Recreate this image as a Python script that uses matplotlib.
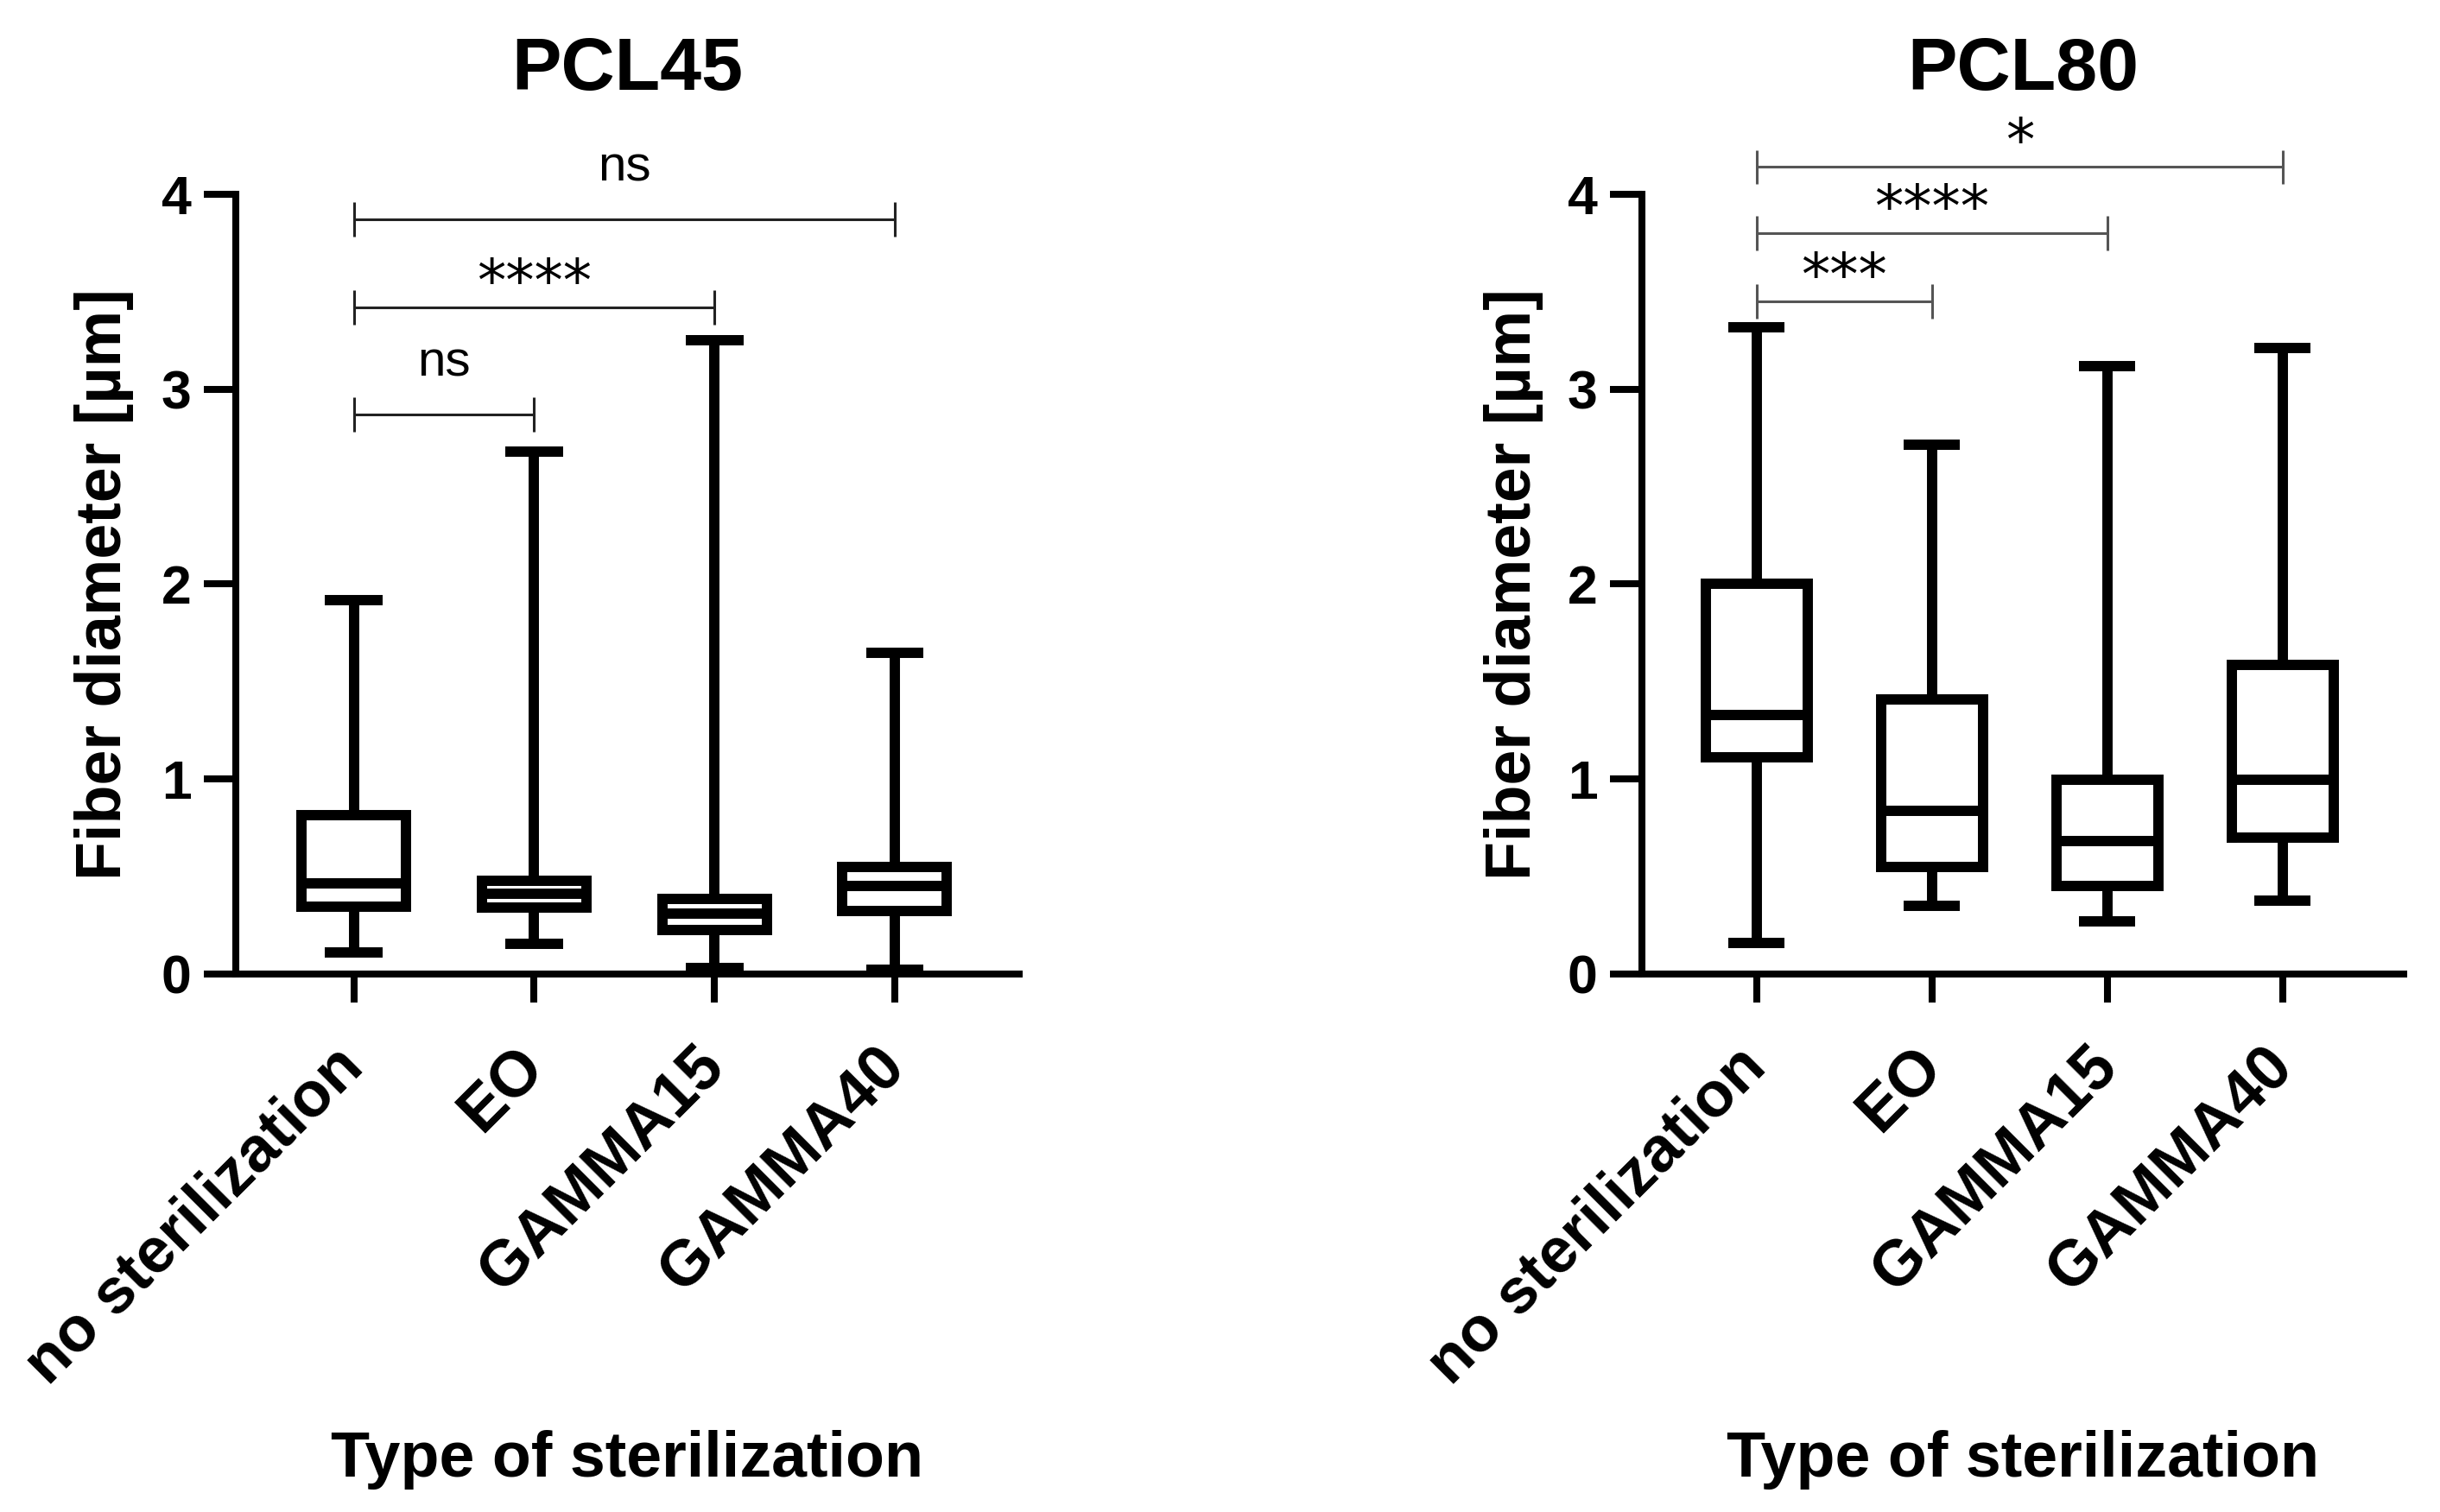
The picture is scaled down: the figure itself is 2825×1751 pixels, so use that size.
import numpy as np
import matplotlib.pyplot as plt

plt.rcParams['font.family'] = ['Liberation Sans', 'DejaVu Sans']

categories = ['no sterilization', 'EO', 'GAMMA15', 'GAMMA40']

# PCL45 box statistics (fiber diameter, um)
pcl45_min = [0.11, 0.155, 0.033, 0.02]
pcl45_q1 = [0.345, 0.34, 0.226, 0.325]
pcl45_med = [0.465, 0.41, 0.31, 0.45]
pcl45_q3 = [0.817, 0.48, 0.387, 0.55]
pcl45_max = [1.92, 2.68, 3.25, 1.65]

# PCL80 box statistics
pcl80_min = [0.16, 0.35, 0.27, 0.375]
pcl80_q1 = [1.11, 0.55, 0.45, 0.70]
pcl80_med = [1.33, 0.835, 0.68, 0.995]
pcl80_q3 = [2.0, 1.41, 0.995, 1.585]
pcl80_max = [3.32, 2.715, 3.12, 3.21]

# significance brackets
pcl45_sig_pairs = [(0, 1), (0, 2), (0, 3)]
pcl45_sig_height = [2.87, 3.42, 3.87]
pcl45_sig_label = ['ns', '****', 'ns']

pcl80_sig_pairs = [(0, 1), (0, 2), (0, 3)]
pcl80_sig_height = [3.45, 3.80, 4.14]
pcl80_sig_label = ['***', '****', '*']

BOX_LW = 8.6
AXIS_LW = 5.8


def draw_panel(ax, title, mins, q1, med, q3, maxs, pairs, heights, labels, sig_color):
    stats = []
    for i in range(len(categories)):
        stats.append(dict(whislo=mins[i], q1=q1[i], med=med[i], q3=q3[i],
                          whishi=maxs[i], label=categories[i]))
    line = dict(color='black', linewidth=BOX_LW, solid_capstyle='butt')
    arts = ax.bxp(stats, positions=np.arange(len(categories)), widths=0.58,
                  capwidths=0.32, showfliers=False, manage_ticks=False,
                  boxprops=dict(color='black', linewidth=BOX_LW, solid_joinstyle='miter'),
                  whiskerprops=line, capprops=line,
                  medianprops=dict(color='black', linewidth=BOX_LW, solid_capstyle='butt'))
    for group in arts.values():
        for a in group:
            a.set_clip_on(False)

    ax.set_xlim(-0.655, 3.69)
    ax.set_ylim(0, 4)
    ax.set_xticks(np.arange(len(categories)))
    ax.set_xticklabels(categories)
    ax.set_yticks([0, 1, 2, 3, 4])
    ax.set_yticklabels(['0', '1', '2', '3', '4'])

    for s in ['top', 'right']:
        ax.spines[s].set_visible(False)
    for s in ['left', 'bottom']:
        ax.spines[s].set_linewidth(AXIS_LW)
    ax.spines['left'].set_bounds(0, 4)

    ax.tick_params(axis='y', width=AXIS_LW, length=27, pad=10, labelsize=45)
    ax.tick_params(axis='x', width=AXIS_LW, length=24, pad=45, labelsize=53)
    for t in ax.get_yticklabels() + ax.get_xticklabels():
        t.set_fontweight('bold')
    plt.setp(ax.get_xticklabels(), rotation=45, ha='right', va='center',
             rotation_mode='anchor')

    ax.set_ylabel('Fiber diameter [\u00b5m]', fontsize=53, fontweight='bold')
    ax.yaxis.label.set_verticalalignment('center')
    ax.yaxis.set_label_coords(-0.168, 0.5)
    ax.set_xlabel('Type of sterilization', fontsize=53, fontweight='bold')
    ax.xaxis.label.set_verticalalignment('baseline')
    ax.xaxis.set_label_coords(0.5, -0.645)

    ax.text(0.5, 1.134, title, transform=ax.transAxes, ha='center', va='baseline',
            fontsize=62, fontweight='bold')

    tick_h = 0.088
    for (a, b), h, lab in zip(pairs, heights, labels):
        ax.plot([a, b], [h, h], color=sig_color, lw=2.2, clip_on=False,
                solid_capstyle='butt')
        for x in (a, b):
            ax.plot([x, x], [h - tick_h, h + tick_h], color=sig_color, lw=2.2,
                    clip_on=False, solid_capstyle='butt')
        if lab == 'ns':
            ax.annotate(lab, xy=((a + b) / 2, h), xytext=(0, 32),
                        textcoords='offset points', ha='center', va='baseline',
                        fontsize=42, annotation_clip=False)
        else:
            ax.annotate(lab, xy=((a + b) / 2, h), xytext=(0, 6),
                        textcoords='offset points', ha='center', va='baseline',
                        fontsize=48, family='DejaVu Sans', annotation_clip=False)


fig = plt.figure(figsize=(28.25, 17.51), dpi=100)
ax1 = fig.add_axes([0.0966, 0.3558, 0.3211, 0.5157])
ax2 = fig.add_axes([0.6729, 0.3558, 0.3122, 0.5157])

draw_panel(ax1, 'PCL45', pcl45_min, pcl45_q1, pcl45_med, pcl45_q3, pcl45_max,
           pcl45_sig_pairs, pcl45_sig_height, pcl45_sig_label, '#222222')
draw_panel(ax2, 'PCL80', pcl80_min, pcl80_q1, pcl80_med, pcl80_q3, pcl80_max,
           pcl80_sig_pairs, pcl80_sig_height, pcl80_sig_label, '#555555')

fig.savefig('out.png', dpi=100)
